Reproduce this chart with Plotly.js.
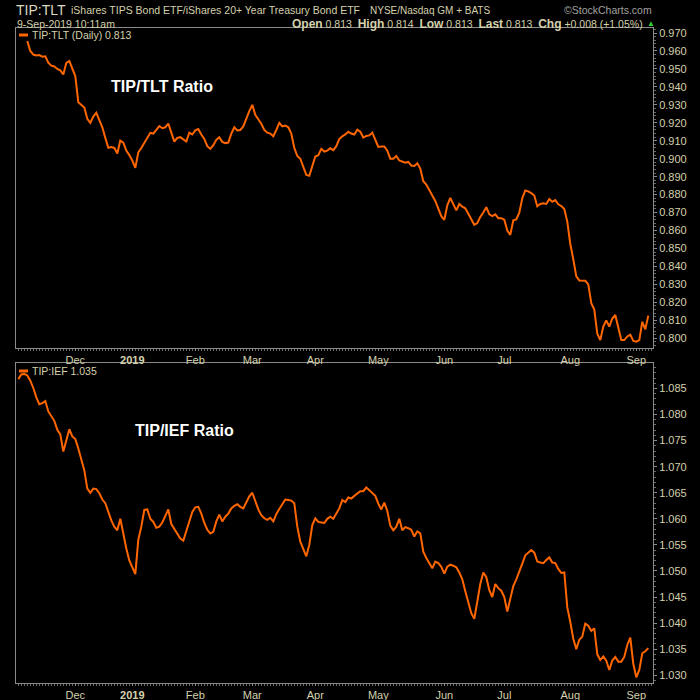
<!DOCTYPE html>
<html>
<head>
<meta charset="utf-8">
<script src="https://cdn.plot.ly/plotly-3.0.1.min.js"></script>
<style>
  html, body { margin: 0; padding: 0; background: #000; }
  #plot { width: 700px; height: 700px; }
</style>
</head>
<body>
<div id="plot"></div>
<script>
// market holidays skipped by the trading-day calendar
const holidays = [
  "2018-11-22", "2018-12-05", "2018-12-25", "2019-01-01", "2019-01-21",
  "2019-02-18", "2019-04-19", "2019-05-27", "2019-07-04", "2019-09-02",
];
const firstDay = "2018-11-05";

// TIP:TLT daily ratio, 2018-11-08 .. 2019-09-09
const tipTlt = [
  0.9655, 0.9600, 0.9580, 0.9575, 0.9577, 0.9568, 0.9570, 0.9535, 0.9518, 0.9514,
  0.9500, 0.9492, 0.9469, 0.9534, 0.9544, 0.9505, 0.9460, 0.9315, 0.9299, 0.9285,
  0.9222, 0.9200, 0.9235, 0.9256, 0.9215, 0.9175, 0.9116, 0.9061, 0.9065, 0.9060,
  0.9029, 0.9101, 0.9090, 0.9045, 0.9020, 0.8990, 0.8949, 0.9035, 0.9060, 0.9089,
  0.9111, 0.9144, 0.9140, 0.9163, 0.9182, 0.9170, 0.9175, 0.9196, 0.9140, 0.9095,
  0.9116, 0.9120, 0.9108, 0.9096, 0.9145, 0.9135, 0.9158, 0.9165, 0.9135, 0.9110,
  0.9070, 0.9055, 0.9075, 0.9105, 0.9120, 0.9094, 0.9087, 0.9090, 0.9140, 0.9175,
  0.9158, 0.9160, 0.9180, 0.9225, 0.9265, 0.9300, 0.9245, 0.9220, 0.9195, 0.9160,
  0.9145, 0.9140, 0.9125, 0.9160, 0.9200, 0.9180, 0.9185, 0.9175, 0.9140, 0.9060,
  0.9015, 0.9000, 0.8960, 0.8910, 0.8905, 0.8966, 0.9012, 0.9020, 0.9055, 0.9040,
  0.9045, 0.9058, 0.9048, 0.9070, 0.9110, 0.9125, 0.9135, 0.9150, 0.9140, 0.9135,
  0.9162, 0.9150, 0.9118, 0.9127, 0.9130, 0.9145, 0.9110, 0.9066, 0.9068, 0.9068,
  0.9045, 0.9000, 0.9000, 0.9015, 0.8990, 0.8985, 0.8978, 0.8982, 0.8962, 0.8960,
  0.8975, 0.8945, 0.8875, 0.8856, 0.8825, 0.8790, 0.8765, 0.8722, 0.8680, 0.8660,
  0.8740, 0.8782, 0.8750, 0.8712, 0.8748, 0.8733, 0.8724, 0.8693, 0.8658, 0.8632,
  0.8642, 0.8676, 0.8700, 0.8730, 0.8690, 0.8680, 0.8690, 0.8669, 0.8669, 0.8660,
  0.8600, 0.8576, 0.8657, 0.8662, 0.8700, 0.8780, 0.8823, 0.8818, 0.8808, 0.8795,
  0.8735, 0.8748, 0.8752, 0.8748, 0.8775, 0.8760, 0.8770, 0.8746, 0.8737, 0.8720,
  0.8650, 0.8525, 0.8440, 0.8345, 0.8322, 0.8319, 0.8320, 0.8300, 0.8195, 0.8160,
  0.8025, 0.7990, 0.8065, 0.8100, 0.8065, 0.8110, 0.8130, 0.8060, 0.7990, 0.7990,
  0.8010, 0.8020, 0.7985, 0.7981, 0.7990, 0.8092, 0.8050, 0.8126,
];

// TIP:IEF daily ratio, 2018-11-05 .. 2019-09-09
const tipIef = [
  1.0868, 1.0877, 1.0878,
  1.0875, 1.0865, 1.0851, 1.0833, 1.0820, 1.0822, 1.0826, 1.0806, 1.0796, 1.0788,
  1.0771, 1.0762, 1.0729, 1.0750, 1.0772, 1.0758, 1.0753, 1.0735, 1.0712, 1.0693,
  1.0658, 1.0650, 1.0658, 1.0657, 1.0649, 1.0637, 1.0630, 1.0613, 1.0597, 1.0585,
  1.0578, 1.0600, 1.0568, 1.0543, 1.0520, 1.0507, 1.0494, 1.0560, 1.0585, 1.0617,
  1.0618, 1.0600, 1.0594, 1.0583, 1.0585, 1.0593, 1.0604, 1.0618, 1.0590, 1.0580,
  1.0572, 1.0562, 1.0558, 1.0575, 1.0596, 1.0613, 1.0622, 1.0623, 1.0610, 1.0592,
  1.0579, 1.0572, 1.0575, 1.0595, 1.0608, 1.0595, 1.0604, 1.0610, 1.0620, 1.0625,
  1.0628, 1.0623, 1.0620, 1.0633, 1.0643, 1.0650, 1.0632, 1.0618, 1.0607, 1.0601,
  1.0598, 1.0602, 1.0595, 1.0609, 1.0619, 1.0627, 1.0637, 1.0636, 1.0635, 1.0630,
  1.0585, 1.0556, 1.0540, 1.0528, 1.0550, 1.0588, 1.0601, 1.0594, 1.0593, 1.0592,
  1.0600, 1.0604, 1.0600, 1.0610, 1.0620, 1.0636, 1.0632, 1.0641, 1.0639, 1.0644,
  1.0649, 1.0653, 1.0653, 1.0660, 1.0655, 1.0649, 1.0644, 1.0629, 1.0618, 1.0631,
  1.0615, 1.0587, 1.0578, 1.0585, 1.0600, 1.0578, 1.0584, 1.0582, 1.0579, 1.0566,
  1.0576, 1.0572, 1.0537, 1.0525, 1.0514, 1.0505, 1.0518, 1.0515, 1.0508, 1.0495,
  1.0508, 1.0512, 1.0510, 1.0507, 1.0497, 1.0484, 1.0461, 1.0441, 1.0419, 1.0408,
  1.0440, 1.0475, 1.0497, 1.0488, 1.0463, 1.0450, 1.0475, 1.0467, 1.0462, 1.0450,
  1.0422, 1.0450, 1.0471, 1.0484, 1.0501, 1.0514, 1.0530, 1.0536, 1.0540, 1.0535,
  1.0518, 1.0516, 1.0515, 1.0521, 1.0526, 1.0516, 1.0515, 1.0504, 1.0496, 1.0497,
  1.0430, 1.0402, 1.0370, 1.0350, 1.0368, 1.0374, 1.0399, 1.0395, 1.0385, 1.0390,
  1.0340, 1.0329, 1.0336, 1.0328, 1.0310, 1.0328, 1.0335, 1.0326, 1.0326, 1.0335,
  1.0358, 1.0372, 1.0322, 1.0296, 1.0310, 1.0342, 1.0346, 1.0352,
];

// month ticks: first trading day of each month
const monthDates = [
  "2018-12-03", "2019-01-02", "2019-02-01", "2019-03-01", "2019-04-01",
  "2019-05-01", "2019-06-03", "2019-07-01", "2019-08-01", "2019-09-03",
];
const monthLabels = ["Dec", "<b>2019</b>", "Feb", "Mar", "Apr", "May", "Jun", "Jul", "Aug", "Sep"];

function tradingDays(start, n) {
  const out = [];
  const d = new Date(start + "T00:00:00Z");
  while (out.length < n) {
    const iso = d.toISOString().slice(0, 10);
    const wd = d.getUTCDay();
    if (wd !== 0 && wd !== 6 && !holidays.includes(iso)) out.push(iso);
    d.setUTCDate(d.getUTCDate() + 1);
  }
  return out;
}

const dates = tradingDays(firstDay, tipIef.length);
const idx = dates.map((_, i) => i);
const tickIdx = monthDates.map((d) => dates.indexOf(d));

const ORANGE = "#ff6600";
const TEXT = "#d4d1ac";
const FRAME = "#8a8a8a";
const FONT = "Liberation Sans, Arial, sans-serif";

// plot area in pixels: x 16..653, y 28..683
const px = (x) => (x - 16) / 637;
const py = (y) => (683 - y) / 655;

const traces = [
  {
    x: idx,
    y: tipIef,
    customdata: dates,
    type: "scatter",
    mode: "lines",
    line: { color: ORANGE, width: 2 },
    xaxis: "x",
    yaxis: "y",
    hoverinfo: "skip",
  },
  {
    x: idx.slice(idx.length - tipTlt.length),
    y: tipTlt,
    type: "scatter",
    mode: "lines",
    line: { color: ORANGE, width: 2 },
    xaxis: "x2",
    yaxis: "y2",
    hoverinfo: "skip",
  },
];

const xBase = {
  range: [-0.77, 211.57],
  tickmode: "array",
  tickvals: tickIdx,
  ticktext: monthLabels,
  ticks: "outside",
  ticklen: 2,
  tickcolor: FRAME,
  minor: { dtick: 1, ticks: "outside", ticklen: 2, tickcolor: "#6a6a6a" },
  showgrid: false,
  zeroline: false,
  showline: true,
  mirror: true,
  linecolor: FRAME,
  linewidth: 1,
  tickfont: { family: FONT, size: 11, color: TEXT },
  fixedrange: true,
};

const yBase = {
  side: "right",
  ticks: "outside",
  ticklen: 3,
  tickcolor: FRAME,
  showgrid: false,
  zeroline: false,
  showline: true,
  mirror: true,
  linecolor: FRAME,
  linewidth: 1,
  tickformat: ".3f",
  tickfont: { family: FONT, size: 11, color: TEXT },
  fixedrange: true,
};

const txt = (text, x, y, size, opts = {}) => ({
  text,
  x: px(x),
  y: py(y),
  xref: "paper",
  yref: "paper",
  xanchor: opts.anchor || "left",
  yanchor: "middle",
  showarrow: false,
  font: { family: FONT, size, color: opts.color || TEXT },
});

const lbl = (s) => `<span style="font-size:12px"><b>${s}</b></span>`;

const annotations = [
  txt("TIP:TLT", 14, 10, 14, { color: "#dcdac0" }),
  txt("iShares TIPS Bond ETF/iShares 20+ Year Treasury Bond ETF", 69, 10, 10.5),
  txt("NYSE/Nasdaq GM + BATS", 368, 10, 10),
  txt("©StockCharts.com", 654, 10, 10.5, { anchor: "right", color: "#a0a0a0" }),
  txt("9-Sep-2019 10:11am", 15, 24, 10.5),
  txt(
    `${lbl("Open")} 0.813  ${lbl("High")} 0.814  ${lbl("Low")} 0.813  ${lbl("Last")} 0.813  ${lbl("Chg")} +0.008 (+1.05%)`,
    645, 24, 10.5, { anchor: "right" }
  ),
  txt("▲", 645, 24, 8, { color: "#33cc33" }),
  txt("TIP:TLT (Daily) 0.813", 30, 35, 10.5),
  txt("TIP:IEF 1.035", 30, 371, 10.5),
  txt("<b>TIP/TLT Ratio</b>", 109, 86, 16, { color: "#ffffff" }),
  txt("<b>TIP/IEF Ratio</b>", 133, 430, 16, { color: "#ffffff" }),
];

const legendDash = (y) => ({
  type: "line",
  xref: "paper",
  yref: "paper",
  x0: px(19),
  x1: px(28),
  y0: py(y),
  y1: py(y),
  line: { color: ORANGE, width: 3 },
});

const layout = {
  width: 700,
  height: 700,
  margin: { l: 16, r: 47, t: 28, b: 17 },
  paper_bgcolor: "#000000",
  plot_bgcolor: "#000000",
  showlegend: false,
  xaxis: { ...xBase, anchor: "y" },
  xaxis2: { ...xBase, anchor: "y2", matches: "x" },
  yaxis: {
    ...yBase,
    domain: [0, 0.4878],
    range: [1.0285, 1.0898],
    tick0: 1.03,
    dtick: 0.005,
    minor: { dtick: 0.001, ticks: "outside", ticklen: 2, tickcolor: "#6a6a6a" },
  },
  yaxis2: {
    ...yBase,
    domain: [0.5115, 1],
    range: [0.7946, 0.9728],
    tick0: 0.8,
    dtick: 0.01,
    minor: { dtick: 0.002, ticks: "outside", ticklen: 2, tickcolor: "#6a6a6a" },
  },
  annotations,
  shapes: [legendDash(35), legendDash(371)],
};

Plotly.newPlot(document.querySelector("#plot"), traces, layout, {
  displayModeBar: false,
  staticPlot: true,
});
</script>
</body>
</html>
